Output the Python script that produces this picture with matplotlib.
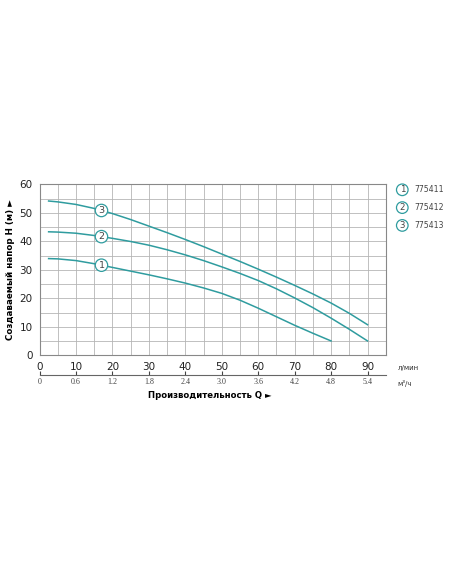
import numpy as np
import matplotlib.pyplot as plt

# Расход, л/мин и напор, м
q1 = [2.5, 5, 10, 15, 20, 25, 30, 35, 40, 45, 50, 55, 60, 65, 70, 75, 80]
h1 = [34, 33.9, 33.3, 32.2, 30.9, 29.6, 28.3, 26.9, 25.4, 23.7, 21.8, 19.4, 16.6, 13.6, 10.6, 7.8, 5.1]

q2 = [2.5, 5, 10, 15, 20, 25, 30, 35, 40, 45, 50, 55, 60, 65, 70, 75, 80, 85, 90]
h2 = [43.4, 43.3, 42.9, 42.1, 41.1, 40, 38.7, 37.1, 35.3, 33.3, 31.1, 28.8, 26.3, 23.4, 20.2, 16.8, 13.1, 9.2, 5.1]

q3 = [2.5, 5, 10, 15, 20, 25, 30, 35, 40, 45, 50, 55, 60, 65, 70, 75, 80, 85, 90]
h3 = [54.2, 53.9, 53, 51.6, 49.8, 47.7, 45.4, 43.1, 40.7, 38.2, 35.6, 33, 30.3, 27.5, 24.6, 21.6, 18.4, 14.8, 10.8]

models = ['775411', '775412', '775413']
m3_ticks = [0, 0.6, 1.2, 1.8, 2.4, 3.0, 3.6, 4.2, 4.8, 5.4]

teal = '#2f9c9f'
grid_c = '#b5b5b5'

fig = plt.figure(figsize=(4.52, 5.84), dpi=100)
ax = fig.add_axes([0.0874, 0.3913, 0.766, 0.2928])

for q, h in [(q1, h1), (q2, h2), (q3, h3)]:
    ax.plot(q, h, color=teal, lw=1.1)

# номера кривых
for i, (q, h) in enumerate([(q1, h1), (q2, h2), (q3, h3)]):
    y = np.interp(17, q, h)
    ax.text(17, y, str(i + 1), ha='center', va='center', fontsize=6.8, color='#444444',
            bbox=dict(boxstyle='circle,pad=0.18', fc='white', ec=teal, lw=0.9))

ax.set_xlim(0, 95)
ax.set_ylim(0, 60)
xs = np.arange(0, 96, 5)
ys = np.arange(0, 61, 5)
ax.set_xticks(xs)
ax.set_yticks(ys)
ax.set_xticklabels([str(int(v)) if v % 10 == 0 and v <= 90 else '' for v in xs])
ax.set_yticklabels([str(int(v)) if v % 10 == 0 else '' for v in ys])
ax.tick_params(length=0, labelsize=7.5, pad=5, colors='#222222')
ax.grid(True, color=grid_c, lw=0.6)
for s in ax.spines.values():
    s.set_color('#888888')
    s.set_linewidth(0.8)

ax.set_ylabel('Создаваемый напор H (м) ►', fontsize=6.3, fontweight='bold')
ax.yaxis.set_label_coords(-0.07, 0.5)

sec = ax.secondary_xaxis(-0.117, functions=(lambda x: x * 0.06, lambda x: x / 0.06))
sec.set_xticks(m3_ticks)
sec.set_xticklabels(['0' if v == 0 else f'{v:.1f}' for v in m3_ticks])
sec.tick_params(direction='in', length=3, labelsize=5.8, pad=1.5, colors='#444444')
sec.spines['bottom'].set_color('#666666')
sec.spines['bottom'].set_linewidth(0.8)
for t in sec.get_xticklabels():
    t.set_family('Liberation Serif')

fig.text(0.465, 0.322, 'Производительность Q ►', fontsize=6.1, fontweight='bold', ha='center', va='center')
fig.text(0.88, 0.370, 'л/мин', fontsize=5, color='#333333', va='center')
fig.text(0.88, 0.344, 'м³/ч', fontsize=5, color='#333333', va='center')

# легенда
for i, m in enumerate(models):
    y = 0.675 - i * 0.0305
    fig.text(0.89, y, str(i + 1), fontsize=6.2, color='#444444', ha='center', va='center',
             bbox=dict(boxstyle='circle,pad=0.15', fc='white', ec=teal, lw=0.9))
    fig.text(0.917, y, m, fontsize=5.6, color='#444444', va='center')

fig.savefig('out.png', dpi=100)
